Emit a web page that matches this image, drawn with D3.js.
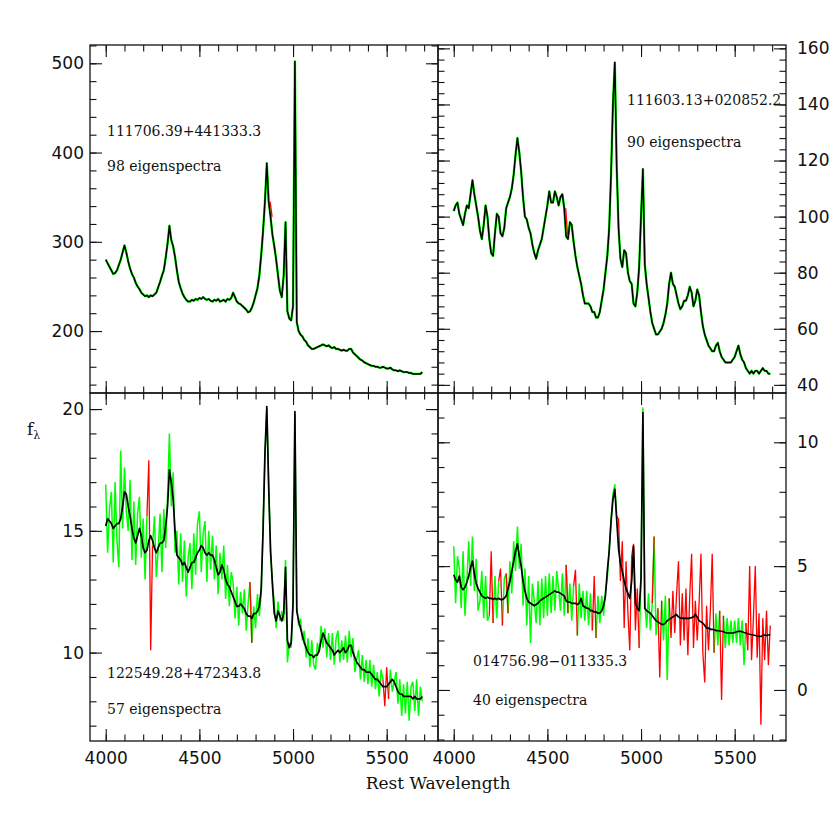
<!DOCTYPE html>
<html>
<head>
<meta charset="utf-8">
<script src="https://cdn.jsdelivr.net/npm/d3@7"></script>
<style>
body { margin: 0; background: #fff; }
svg { display: block; }
</style>
</head>
<body>
<script>
// every spectrum is sampled on the same grid: first pixel and step in Angstrom
var waveStart = 4000;
var waveStep = 10;

// 111706.39+441333.3 : reconstruction (observed spectrum lies on top of it)
var tlFit = [
  280, 276, 272, 268, 264, 265, 268, 274, 280, 288,
  296, 288, 278, 270, 264, 260, 254, 250, 247, 243,
  241, 239, 240, 238, 240, 239, 241, 243, 249, 255,
  262, 268, 282, 298, 318, 302, 295, 283, 268, 255,
  248, 242, 238, 235, 233, 233, 235, 234, 236, 235,
  237, 236, 238, 236, 235, 236, 234, 233, 235, 234,
  236, 233, 234, 235, 233, 236, 235, 237, 243, 238,
  233, 231, 230, 228, 226, 224, 221, 222, 226, 232,
  240, 248, 262, 285, 312, 345, 388, 345, 328, 308,
  295, 280, 262, 245, 238, 262, 322, 222, 214, 212,
  228, 502, 210, 200, 196, 194, 190, 188, 184, 182,
  180, 180, 181, 182, 183, 184, 185, 184, 183, 184,
  182, 181, 182, 180, 180, 179, 178, 179, 178, 178,
  180, 180, 176, 174, 172, 170, 168, 167, 165, 164,
  163, 162, 161, 161, 160, 160, 159, 159, 160, 159,
  158, 158, 159, 157, 156, 156, 155, 156, 155, 154,
  154, 154, 153, 153, 152, 152, 152, 152, 152, 154
];
var tlMask = [[4870, 4880]];

// 111603.13+020852.2
var trFit = [
  102, 104, 105, 101, 99, 97, 101, 104, 103, 108,
  113, 108, 104, 100, 95, 92, 97, 104, 100, 92,
  87, 86, 94, 101, 100, 94, 93, 96, 103, 105,
  107, 110, 115, 122, 128, 123, 116, 107, 100, 99,
  96, 94, 90, 87, 85, 88, 90, 92, 96, 100,
  104, 109, 105, 105, 109, 107, 104, 107, 108, 103,
  93, 92, 98, 97, 91, 86, 82, 79, 76, 72,
  69, 69, 69, 68, 66, 66, 64, 64, 66, 70,
  74, 80, 86, 96, 115, 140, 155, 118, 96, 85,
  82, 88, 87, 80, 77, 76, 69, 68, 73, 82,
  100, 117, 83, 76, 71, 66, 62, 60, 58, 58,
  59, 60, 62, 65, 69, 76, 80, 76, 75, 72,
  69, 67, 68, 70, 70, 72, 75, 73, 68, 70,
  74, 72, 66, 61, 58, 56, 54, 53, 52, 52,
  54, 55, 52, 50, 49, 48, 48, 48, 48, 49,
  50, 52, 54, 51, 49, 48, 46, 45, 44, 45,
  44, 45, 45, 44, 45, 46, 45, 45, 44, 44
];
var trMask = [[4590, 4600]];

// 122549.28+472343.8
var blFit = [
  15.2, 15.5, 15.4, 15.3, 15.1, 15.2, 15.3, 15.3, 15.5, 16.0,
  16.6, 16.5, 16.0, 15.6, 15.1, 14.7, 14.5, 14.8, 15.1, 14.8,
  14.3, 14.1, 14.2, 14.6, 14.8, 14.6, 14.3, 14.1, 14.3, 14.5,
  14.5, 14.6, 15.2, 16.0, 17.5, 17.0, 16.3, 15.0, 14.0, 13.9,
  13.8, 13.6, 13.7, 13.5, 13.3, 13.5, 13.7, 13.7, 13.9, 14.1,
  14.2, 14.4, 14.3, 14.1, 14.0, 14.1, 14.0, 14.0, 13.8, 13.5,
  13.2, 13.3, 13.6, 13.4, 13.0, 12.8, 12.7, 12.5, 12.3, 12.1,
  11.9, 11.9, 12.0, 11.9, 11.8, 11.6, 11.5, 11.5, 11.4, 11.6,
  11.6, 11.7, 11.9, 12.6, 15.0, 18.2, 20.1, 16.8, 14.2, 12.8,
  11.6, 11.3, 11.7, 11.5, 11.3, 11.6, 13.5, 10.5, 10.2, 10.4,
  12.0, 19.9, 11.7, 11.3, 11.0, 10.7, 10.4, 10.2, 10.0, 9.9,
  9.9, 9.8, 9.9, 9.9, 10.1, 10.5, 10.8, 10.6, 10.4, 10.3,
  10.2, 10.1, 9.9, 10.0, 10.1, 10.0, 10.1, 10.2, 10.0, 10.1,
  10.3, 10.3, 10.0, 9.8, 9.6, 9.5, 9.4, 9.3, 9.3, 9.2,
  9.2, 9.2, 9.1, 9.0, 8.9, 8.9, 8.8, 8.7, 8.6, 8.6,
  8.6, 8.7, 8.8, 8.9, 8.8, 8.6, 8.4, 8.3, 8.3, 8.2,
  8.2, 8.2, 8.2, 8.2, 8.1, 8.2, 8.1, 8.1, 8.1, 8.2
];
var blObs = [
  16.9, 14.1, 15.9, 16.6, 13.7, 17.0, 14.6, 13.5, 18.3, 15.1,
  17.6, 15.8, 15.0, 17.1, 13.8, 16.2, 13.6, 15.7, 16.4, 13.9,
  15.5, 13.0, 15.6, 17.9, 10.1, 14.4, 15.6, 13.1, 14.2, 15.7,
  13.3, 15.9, 14.3, 16.4, 19.0, 16.0, 17.4, 14.1, 15.0, 12.8,
  14.9, 12.9, 14.6, 12.3, 13.9, 14.5, 12.6, 14.9, 13.2, 15.3,
  15.8, 13.3, 14.9, 15.4, 12.9, 15.0, 13.4, 14.8, 13.0, 14.4,
  12.4, 14.1, 13.0, 14.4, 12.2, 13.6, 11.9, 13.3, 12.9, 11.4,
  12.7, 11.1, 12.5, 11.6, 12.6, 10.9, 12.0, 12.9, 10.4, 11.9,
  11.0, 12.4, 11.5, 12.4, 15.2, 18.0, 20.0, 16.9, 14.0, 12.9,
  12.0, 11.0, 12.1, 11.3, 11.7, 11.3, 13.8, 9.6, 10.4, 10.2,
  12.1, 19.8, 11.9, 11.1, 11.4, 10.5, 10.9, 9.8, 10.6, 9.4,
  10.5, 9.5, 9.3, 10.4, 10.0, 11.1, 10.2, 11.0, 9.8, 10.8,
  9.7, 10.8, 9.5, 10.6, 10.9, 9.6, 10.5, 9.7, 10.7, 9.6,
  10.9, 9.8, 10.6, 9.2, 9.7, 10.1, 8.9, 9.9, 8.8, 9.7,
  8.7, 9.7, 8.6, 9.5, 8.5, 9.2, 8.2, 9.3, 8.9, 7.8,
  9.4, 8.1, 9.3, 8.4, 8.8, 9.2, 7.9, 8.9, 7.4, 8.7,
  7.5, 8.8, 7.2, 8.6, 8.8, 7.6, 8.9, 7.4, 8.6, 8.0
];
var blMask = [[4220, 4250], [4770, 4780], [5480, 5510]];

// 014756.98-011335.3
var brFit = [
  4.65, 4.45, 4.35, 4.6, 4.15, 4.05, 4.15, 4.35, 4.6, 4.95,
  5.2, 4.7, 4.3, 4.1, 3.95, 3.8, 3.75, 3.7, 3.75, 3.7,
  3.7, 3.65, 3.7, 3.65, 3.7, 3.65, 3.65, 3.7, 3.8, 4.1,
  4.4, 4.8, 5.2, 5.6, 5.9, 5.4, 5.0, 4.4, 4.0, 3.7,
  3.55, 3.5, 3.45, 3.4, 3.45, 3.5, 3.6, 3.65, 3.7, 3.75,
  3.8, 3.85, 3.9, 3.95, 4.0, 3.95, 3.95, 3.9, 3.85, 3.8,
  3.6, 3.55, 3.55, 3.5, 3.5, 3.5, 3.45, 3.5, 3.7, 3.4,
  3.35, 3.3, 3.3, 3.2, 3.2, 3.15, 3.15, 3.1, 3.1, 3.2,
  3.4, 3.8, 4.8, 5.6, 6.8, 7.7, 8.1, 6.9, 5.7, 5.1,
  4.8, 4.4, 4.1, 3.9, 3.7, 4.4, 5.8, 3.5, 3.3, 3.2,
  4.5, 11.2, 3.3, 3.2, 3.15, 3.1, 3.0, 2.9, 2.8, 2.75,
  2.7, 2.65, 2.65, 2.7, 2.8, 2.85, 2.9, 2.95, 3.0, 3.05,
  2.95, 2.9, 2.9, 2.88, 2.9, 2.88, 2.9, 2.92, 2.95, 3.05,
  2.95, 2.8, 2.75, 2.7, 2.6, 2.5, 2.5, 2.45, 2.45, 2.43,
  2.4, 2.4, 2.38, 2.37, 2.35, 2.32, 2.3, 2.3, 2.3, 2.3,
  2.32, 2.35, 2.37, 2.37, 2.35, 2.32, 2.3, 2.27, 2.25, 2.23,
  2.22, 2.2, 2.18, 2.17, 2.16, 2.2, 2.22, 2.2, 2.22, 2.23
];
var brObs = [
  5.8, 3.5, 5.4, 4.9, 3.3, 5.6, 3.0, 4.4, 6.0, 4.2,
  6.2, 4.0, 5.3, 3.2, 3.6, 4.8, 2.9, 4.6, 2.8, 3.0,
  5.6, 2.7, 4.6, 2.9, 4.4, 4.9, 2.6, 4.5, 4.7, 3.1,
  5.2, 3.9, 6.0, 4.8, 6.6, 4.9, 5.9, 3.4, 4.9, 2.6,
  4.6, 1.9, 4.3, 3.6, 2.7, 4.4, 2.6, 4.5, 2.9, 4.6,
  3.0, 4.7, 3.1, 4.6, 3.2, 4.8, 4.1, 3.2, 4.7, 3.0,
  5.05, 3.1, 4.3, 2.8, 4.2, 4.85, 2.2, 4.3, 2.9, 4.0,
  2.8, 4.0, 2.6, 3.9, 2.4, 4.6, 2.1, 3.8, 2.7, 3.8,
  3.0, 4.0, 4.5, 5.7, 6.9, 7.9, 8.3, 7.0, 6.9, 4.4,
  6.0, 2.5, 5.2, 3.1, 1.6, 5.4, 5.9, 2.4, 4.1, 1.7,
  4.6, 11.4, 3.6, 2.5, 3.9, 2.4, 3.5, 6.2, 2.2, 3.3,
  0.5, 3.6, 2.0, 3.8, 0.4, 3.7, 2.1, 4.0, 2.3, 3.9,
  5.2, 1.8, 3.9, 2.0, 4.1, 1.4, 3.8, 5.5, 1.7, 3.6,
  2.0, 3.5, 5.5, 1.5, 0.3, 3.4, 1.6, 3.2, 5.5, 1.5,
  3.1, 1.8, 3.2, -0.4, 3.0, 1.7, 2.9, 1.8, 2.8, 1.9,
  2.8, 1.9, 2.9, 1.8, 2.8, 1.0, 2.7, 1.6, 5.0, 1.2,
  2.9, 5.0, 1.3, 3.1, -1.4, 2.9, 1.2, 3.2, 1.0, 2.6
];
var brMask = [[4190, 4210], [4240, 4260], [4280, 4290], [4600, 4610], [4640, 4660],
  [4740, 4760], [4870, 4990], [5060, 5070], [5090, 5110], [5150, 5390], [5420, 5440], [5560, 5690]];

var objNames = ["111706.39+441333.3", "111603.13+020852.2", "122549.28+472343.8", "014756.98\u2212011335.3"];
var nEigen = [98, 90, 57, 40];

var xDomain = [3916, 5774];
var xMajor = [4000, 4500, 5000, 5500];
var xMinor = d3.range(4000, 5701, 100);

var tlYDomain = [130.6, 520.5], tlYMajor = [200, 300, 400, 500], tlYMinor = d3.range(140, 521, 20);
var trYDomain = [37.1, 161.2], trYMajor = [40, 60, 80, 100, 120, 140, 160], trYMinor = d3.range(40, 161, 4);
var blYDomain = [6.37, 20.66], blYMajor = [10, 15, 20], blYMinor = d3.range(7, 21, 1);
var brYDomain = [-2.06, 11.99], brYMajor = [0, 5, 10], brYMinor = d3.range(-2, 12, 1);

var panels = [
  {fit: tlFit, obs: tlFit, mask: tlMask, halo: true, col: 0, row: 0, yDom: tlYDomain, yMaj: tlYMajor, yMin: tlYMinor, tx: 17, ty: [91, 126]},
  {fit: trFit, obs: trFit, mask: trMask, halo: true, col: 1, row: 0, yDom: trYDomain, yMaj: trYMajor, yMin: trYMinor, tx: 189, ty: [60, 102]},
  {fit: blFit, obs: blObs, mask: blMask, halo: false, col: 0, row: 1, yDom: blYDomain, yMaj: blYMajor, yMin: blYMinor, tx: 17, ty: [285, 321]},
  {fit: brFit, obs: brObs, mask: brMask, halo: false, col: 1, row: 1, yDom: brYDomain, yMaj: brYMajor, yMin: brYMinor, tx: 35, ty: [273, 312]}
];

var pw = 348, ph = 348, ox = 90, oy = 45;
var majLen = 12, minLen = 6.5;

var svg = d3.select("body").append("svg")
  .attr("width", 830)
  .attr("height", 830);

function tickSet(g, gen, scale, values, len, labels, pad) {
  var ax = gen(scale).tickValues(values).tickSizeInner(-len).tickSizeOuter(0)
    .tickPadding(pad || 0).tickFormat(labels ? d3.format("d") : "");
  var a = g.append("g").call(ax);
  a.select(".domain").remove();
  a.selectAll("line").attr("stroke", "#111").attr("stroke-width", 1.1);
  a.selectAll("text")
    .attr("fill", "#111")
    .style("font-family", "'DejaVu Sans', sans-serif")
    .style("font-size", "17px");
  return a;
}

panels.forEach(function(p, i) {
  var g = svg.append("g")
    .attr("transform", "translate(" + (ox + p.col * pw) + "," + (oy + p.row * ph) + ")");

  var x = d3.scaleLinear().domain(xDomain).range([0, pw]);
  var y = d3.scaleLinear().domain(p.yDom).range([ph, 0]);

  var toPts = function(arr) {
    return arr.map(function(v, k) { return {w: waveStart + k * waveStep, f: v}; });
  };
  var inMask = function(w) {
    return p.mask.some(function(r) { return w >= r[0] && w <= r[1]; });
  };

  svg.append("clipPath").attr("id", "clip" + i)
    .append("rect").attr("width", pw).attr("height", ph);
  var plot = g.append("g").attr("clip-path", "url(#clip" + i + ")");

  var fx = function(d) { return x(d.w); };
  var fy = function(d) { return y(d.f); };
  var obsPts = toPts(p.obs);

  if (p.halo) {
    // observed spectrum hugging the reconstruction
    plot.append("path").datum(obsPts)
      .attr("d", d3.line().x(fx).y(fy))
      .attr("fill", "none")
      .attr("stroke", "#00ff00")
      .attr("stroke-width", 2.4)
      .attr("stroke-linejoin", "round");
  } else {
    // good pixels green, masked pixels red
    var goodLine = d3.line().x(fx).y(fy).defined(function(d) {
      return !inMask(d.w) || !inMask(d.w - waveStep) || !inMask(d.w + waveStep);
    });
    plot.append("path").datum(obsPts)
      .attr("d", goodLine)
      .attr("fill", "none")
      .attr("stroke", "#00ff00")
      .attr("stroke-width", 1.5);
    plot.append("path").datum(obsPts)
      .attr("d", d3.line().x(fx).y(fy).defined(function(d) { return inMask(d.w); }))
      .attr("fill", "none")
      .attr("stroke", "#ff0000")
      .attr("stroke-width", 1.3);
  }

  // eigenspectra reconstruction, black
  plot.append("path").datum(toPts(p.fit))
    .attr("d", d3.line().x(fx).y(fy))
    .attr("fill", "none")
    .attr("stroke", "#000")
    .attr("stroke-width", p.halo ? 1.5 : 1.7)
    .attr("stroke-linejoin", "round");

  if (p.halo) {
    plot.append("path").datum(obsPts)
      .attr("d", d3.line().x(function(d) { return x(d.w) + 1.5; }).y(fy)
        .defined(function(d) { return inMask(d.w); }))
      .attr("fill", "none")
      .attr("stroke", "#ff0000")
      .attr("stroke-width", 1.3);
  }

  // ticks on all four sides, pointing inwards
  var top = g.append("g");
  tickSet(top, d3.axisTop, x, xMinor, minLen, false);
  tickSet(top, d3.axisTop, x, xMajor, majLen, false);
  var bot = g.append("g").attr("transform", "translate(0," + ph + ")");
  tickSet(bot, d3.axisBottom, x, xMinor, minLen, false);
  tickSet(bot, d3.axisBottom, x, xMajor, majLen, p.row === 1, 11);
  var lft = g.append("g");
  tickSet(lft, d3.axisLeft, y, p.yMin, minLen, false);
  tickSet(lft, d3.axisLeft, y, p.yMaj, majLen, p.col === 0, 6);
  var rgt = g.append("g").attr("transform", "translate(" + pw + ",0)");
  tickSet(rgt, d3.axisRight, y, p.yMin, minLen, false);
  tickSet(rgt, d3.axisRight, y, p.yMaj, majLen, p.col === 1, 11);

  g.append("rect")
    .attr("width", pw).attr("height", ph)
    .attr("fill", "none")
    .attr("stroke", "#111")
    .attr("stroke-width", 1.3);

  var lab = g.append("g")
    .style("font-family", "'DejaVu Serif', serif")
    .style("font-size", "14px")
    .attr("fill", "#111");
  lab.append("text").attr("x", p.tx).attr("y", p.ty[0]).text(objNames[i]);
  lab.append("text").attr("x", p.tx).attr("y", p.ty[1]).text(nEigen[i] + " eigenspectra");
});

svg.append("text")
  .attr("x", ox + pw)
  .attr("y", 789)
  .attr("text-anchor", "middle")
  .style("font-family", "'DejaVu Serif', serif")
  .style("font-size", "17px")
  .attr("fill", "#111")
  .text("Rest Wavelength");

var fl = svg.append("text")
  .attr("x", 27)
  .attr("y", 435)
  .style("font-family", "'DejaVu Serif', serif")
  .style("font-size", "17px")
  .attr("fill", "#111");
fl.append("tspan").text("f");
fl.append("tspan").attr("dy", 4).style("font-size", "11px").text("\u03bb");
</script>
</body>
</html>
